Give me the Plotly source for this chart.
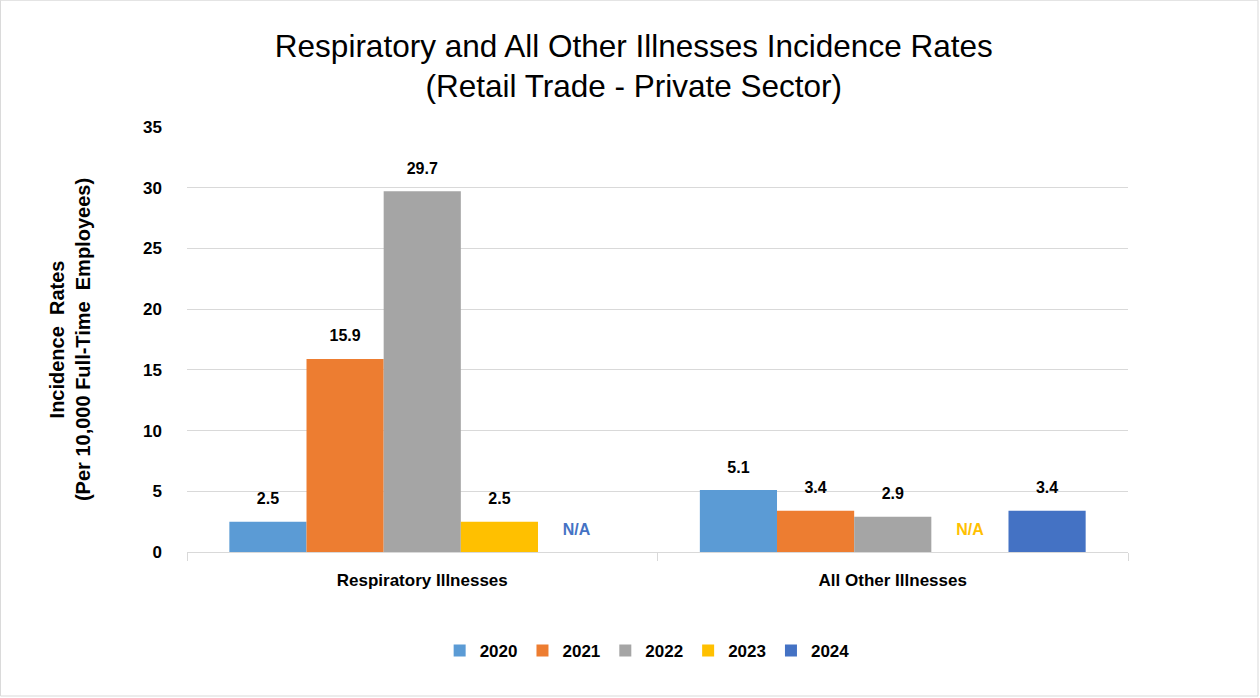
import plotly.graph_objects as go

categories = ["Respiratory Illnesses", "All Other Illnesses"]
years = ["2020", "2021", "2022", "2023", "2024"]
colors = ["#5B9BD5", "#ED7D31", "#A5A5A5", "#FFC000", "#4472C4"]
values = {
    "2020": [2.5, 5.1],
    "2021": [15.9, 3.4],
    "2022": [29.7, 2.9],
    "2023": [2.5, None],
    "2024": [None, 3.4],
}
na_color = {"2023": "#FFC000", "2024": "#4472C4"}

W, H = 1260, 698
ml, mr, mt, mb = 187, 132, 127, 146
FONT = "Liberation Sans"

fig = go.Figure()
for yr, col in zip(years, colors):
    vals = values[yr]
    fig.add_trace(go.Bar(
        name=yr, x=categories, y=[v if v is not None else 0 for v in vals],
        marker=dict(color=col, line=dict(width=0)),
        offsetgroup=yr, alignmentgroup="a",
        hoverinfo="skip",
    ))
for yr in years:
    vals = values[yr]
    fig.add_trace(go.Scatter(
        x=categories, y=[v if v is not None else 0 for v in vals],
        mode="markers+text", offsetgroup=yr, alignmentgroup="a",
        marker=dict(size=20, color="rgba(0,0,0,0)"),
        text=[f"{v}" if v is not None else "N/A" for v in vals],
        textposition="top center",
        textfont=dict(family=FONT, size=16,
                      color=[na_color.get(yr, "black") if v is None else "black" for v in vals],
                      weight="bold"),
        cliponaxis=False, showlegend=False, hoverinfo="skip",
    ))

fig.update_layout(
    width=W, height=H,
    margin=dict(l=ml, r=mr, t=mt, b=mb, autoexpand=False),
    paper_bgcolor="white", plot_bgcolor="white",
    barmode="group", bargap=0.18, bargroupgap=0,
    scattermode="group", scattergap=0.18,
    hovermode=False,
    title=dict(
        text="Respiratory and All Other Illnesses Incidence Rates<br>(Retail Trade - Private Sector)",
        x=0.503, xanchor="center", y=0.919, yanchor="middle",
        font=dict(family=FONT, size=31.5, color="black"),
    ),
    legend=dict(
        orientation="h", x=0.489, xanchor="center", y=-0.233, yanchor="middle",
        font=dict(family=FONT, size=17, color="black", weight="bold"),
        traceorder="normal",
    ),
)

fig.update_xaxes(
    automargin=False,
    showline=True, linecolor="#D9D9D9", linewidth=1,
    ticks="outside", tickson="boundaries", ticklen=8, tickcolor="#D9D9D9",
    ticklabelstandoff=13,
    tickfont=dict(family=FONT, size=17, color="black", weight="bold"),
    showgrid=False,
)
fig.update_yaxes(
    automargin=False,
    range=[0, 35], dtick=5, showgrid=True, gridcolor="#D9D9D9", gridwidth=1,
    zeroline=False, showline=False, ticks="", ticklabelstandoff=24,
    tickfont=dict(family=FONT, size=17, color="black", weight="bold"),
    title=dict(
        text="Incidence  Rates<br>(Per 10,000 Full-Time  Employees)",
        font=dict(family=FONT, size=20, color="black", weight="bold"),
        standoff=47,
    ),
)

# Outer chart border
fig.add_shape(
    type="rect", xref="paper", yref="paper",
    x0=-ml / (W - ml - mr) + 0.0005, x1=1 + (mr - 2) / (W - ml - mr),
    y0=-(mb - 2) / (H - mt - mb), y1=1 + mt / (H - mt - mb) - 0.0005,
    line=dict(color="#D9D9D9", width=1), fillcolor="rgba(0,0,0,0)", layer="below",
)

fig.write_html("out.html", config={"displayModeBar": False},
               post_script="document.body.style.margin='0';")
